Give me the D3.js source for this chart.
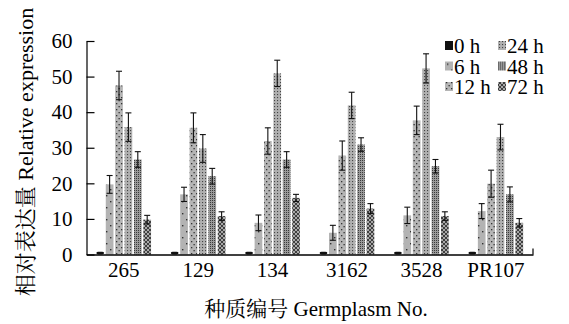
<!DOCTYPE html>
<html>
<head>
<meta charset="utf-8">
<script src="https://cdn.jsdelivr.net/npm/d3@7"></script>
<style>
  html, body { margin: 0; padding: 0; background: #fff; }
  svg { display: block; }
</style>
</head>
<body>
<svg id="chart" width="569" height="324"></svg>
<script>
// Germplasm accessions and sampling time points
const categories = ["265", "129", "134", "3162", "3528", "PR107"];
const series = ["0 h", "6 h", "12 h", "24 h", "48 h", "72 h"];

// Mean relative expression per time point (one value per accession)
const h0  = [0.8, 0.8, 0.8, 0.8, 0.8, 0.8];
const h6  = [19.7, 16.9, 8.9, 6.1, 11.0, 12.2];
const h12 = [47.5, 35.6, 31.9, 27.8, 37.7, 19.9];
const h24 = [35.8, 29.8, 50.9, 41.9, 52.3, 33.0];
const h48 = [26.7, 22.0, 26.7, 30.9, 24.8, 16.9];
const h72 = [9.8, 10.8, 15.9, 12.9, 10.8, 8.9];

// Standard deviations
const e0  = [0.2, 0.2, 0.2, 0.2, 0.2, 0.2];
const e6  = [2.5, 2.0, 2.2, 2.1, 2.3, 2.1];
const e12 = [4.0, 4.2, 3.7, 4.1, 4.0, 3.8];
const e24 = [4.0, 3.9, 3.7, 3.7, 4.1, 3.6];
const e48 = [2.2, 2.2, 2.2, 1.9, 1.9, 2.1];
const e72 = [1.2, 1.2, 1.0, 1.4, 1.2, 1.2];

const yTicks = [0, 10, 20, 30, 40, 50, 60];

const means = [h0, h6, h12, h24, h48, h72];
const errs = [e0, e6, e12, e24, e48, e72];

// Latin text in a Times-style face, Chinese in a Song-style face
const LATIN = "'Liberation Serif', 'Times New Roman'";
const CJK = "'Noto Serif CJK SC'";

const rows = [];
categories.forEach((c, ci) => {
  series.forEach((s, si) => {
    rows.push({ cat: c, ser: s, si, value: means[si][ci], err: errs[si][ci] });
  });
});

const svg = d3.select("#chart");
const plotLeft = 86.5, plotRight = 533, plotTop = 41, plotBottom = 254.5;

const x0 = d3.scaleBand().domain(categories).range([plotLeft, plotRight])
  .paddingInner(0.22).paddingOuter(0.11);
const x1 = d3.scaleBand().domain(series).range([0, x0.bandwidth()]).padding(0.18);
const y = d3.scaleLinear().domain([0, 60]).range([plotBottom, plotTop]);

// Fill patterns, one per time point
const defs = svg.append("defs");
function pat(id, w, h, bg, draw) {
  const p = defs.append("pattern").attr("id", id)
    .attr("patternUnits", "userSpaceOnUse").attr("width", w).attr("height", h);
  p.append("rect").attr("width", w).attr("height", h).attr("fill", bg);
  draw(p);
}
pat("p0", 4, 4, "#111", () => {});
pat("p6", 8, 12, "#b3b3b3", p => {
  p.append("rect").attr("x", 2).attr("y", 3).attr("width", 1.4).attr("height", 1.4).attr("fill", "#333");
  p.append("rect").attr("x", 6).attr("y", 9).attr("width", 1.4).attr("height", 1.4).attr("fill", "#333");
});
pat("p12", 5, 6, "#b5b5b5", p => {
  p.append("rect").attr("x", 1).attr("y", 1).attr("width", 1.3).attr("height", 1.3).attr("fill", "#333");
  p.append("rect").attr("x", 3.5).attr("y", 4).attr("width", 1.3).attr("height", 1.3).attr("fill", "#333");
});
pat("p24", 3, 3, "#b0b0b0", p => {
  p.append("rect").attr("x", 1).attr("y", 1).attr("width", 1.1).attr("height", 1.1).attr("fill", "#444");
});
pat("p48", 2, 2, "#9a9a9a", p => {
  p.append("rect").attr("x", 0).attr("y", 0).attr("width", 1).attr("height", 1).attr("fill", "#3a3a3a");
});
pat("p72", 4, 4, "#a8a8a8", p => {
  p.append("path").attr("d", "M0,0L4,4M4,0L0,4").attr("stroke", "#333").attr("stroke-width", 0.9);
});
const fillOf = si => `url(#p${[0, 6, 12, 24, 48, 72][si]})`;

// Bars
const g = svg.append("g");
g.selectAll("rect.bar").data(rows).join("rect")
  .attr("class", "bar")
  .attr("x", d => x0(d.cat) + x1(d.ser))
  .attr("y", d => y(d.value))
  .attr("width", x1.bandwidth())
  .attr("height", d => y(0) - y(d.value))
  .attr("rx", d => d.si === 0 ? 2 : 0)
  .attr("fill", d => fillOf(d.si));

// Error bars (mean ± SD) for the non-zero time points
const eb = g.selectAll("g.err").data(rows.filter(d => d.si > 0)).join("g").attr("class", "err")
  .attr("stroke", "#111").attr("stroke-width", 1.1);
const cx = d => x0(d.cat) + x1(d.ser) + x1.bandwidth() / 2;
eb.append("line").attr("x1", cx).attr("x2", cx)
  .attr("y1", d => y(d.value + d.err)).attr("y2", d => y(d.value - d.err));
eb.append("line").attr("x1", d => cx(d) - 3).attr("x2", d => cx(d) + 3)
  .attr("y1", d => y(d.value + d.err)).attr("y2", d => y(d.value + d.err));
eb.append("line").attr("x1", d => cx(d) - 3).attr("x2", d => cx(d) + 3)
  .attr("y1", d => y(d.value - d.err)).attr("y2", d => y(d.value - d.err));

// Y axis with inward ticks
const yAxis = svg.append("g").attr("transform", `translate(${plotLeft},0)`)
  .call(d3.axisLeft(y).tickValues(yTicks).tickSizeInner(-8).tickSizeOuter(0).tickPadding(14));
yAxis.attr("font-family", LATIN).attr("font-size", 21);
yAxis.select(".domain").attr("stroke", "#000").attr("stroke-width", 1.2);
yAxis.selectAll(".tick line").attr("stroke", "#000").attr("stroke-width", 1.2);
yAxis.selectAll(".tick text").attr("fill", "#000");

// X axis: baseline, category labels, closing tick at the right end
const xAxis = svg.append("g").attr("transform", `translate(0,${plotBottom})`)
  .call(d3.axisBottom(x0).tickSize(0).tickSizeOuter(0).tickPadding(8));
xAxis.attr("font-family", LATIN).attr("font-size", 21);
xAxis.select(".domain").attr("stroke", "#000").attr("stroke-width", 1.4);
xAxis.selectAll(".tick text").attr("fill", "#000");
svg.append("line").attr("x1", plotRight).attr("x2", plotRight)
  .attr("y1", plotBottom - 6).attr("y2", plotBottom).attr("stroke", "#000").attr("stroke-width", 1.2);

// Axis titles: Chinese part and English part in separate spans
function bilingual(sel, zh, en, size) {
  sel.attr("font-size", size).attr("font-family", LATIN);
  sel.append("tspan").attr("font-family", CJK).text(zh);
  sel.append("tspan").attr("font-family", LATIN).text(" " + en);
}
const yTitle = svg.append("text")
  .attr("transform", "translate(33,152) rotate(-90)")
  .attr("text-anchor", "middle");
bilingual(yTitle, "相对表达量", "Relative expression", 22);
const xTitle = svg.append("text")
  .attr("x", 316).attr("y", 316)
  .attr("text-anchor", "middle");
bilingual(xTitle, "种质编号", "Germplasm No.", 21);

// Legend, two columns of three
const legend = svg.append("g").attr("font-family", LATIN).attr("font-size", 21);
const lg = legend.selectAll("g").data(series).join("g")
  .attr("transform", (d, i) => `translate(${445 + Math.floor(i / 3) * 53},${40 + (i % 3) * 20.5})`);
lg.append("rect").attr("width", 8).attr("height", 9).attr("y", 1).attr("fill", (d, i) => fillOf(i));
lg.append("text").attr("x", 9).attr("y", 13).text(d => d);
</script>
</body>
</html>
